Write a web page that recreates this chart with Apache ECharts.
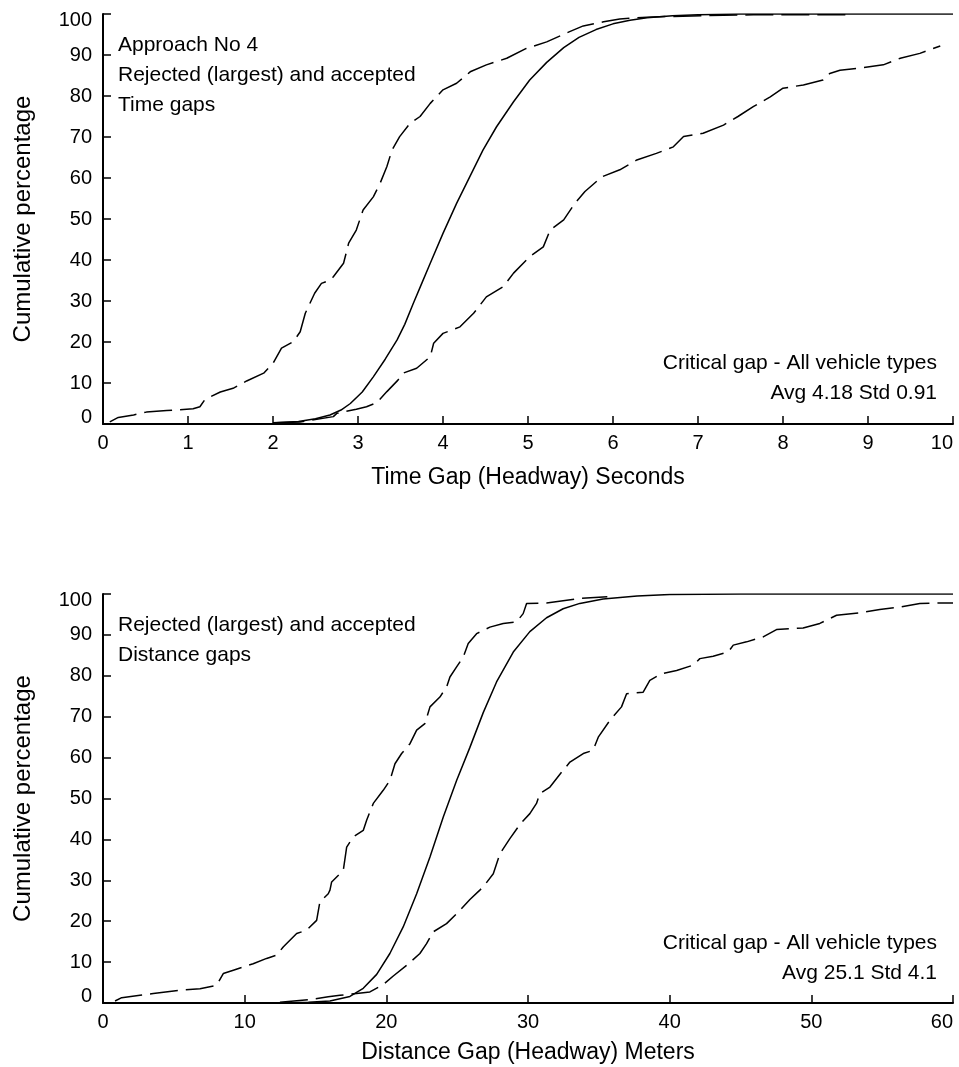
<!DOCTYPE html>
<html>
<head>
<meta charset="utf-8">
<script src="https://cdn.jsdelivr.net/npm/echarts@6/dist/echarts.min.js"></script>
<style>
  html, body { margin: 0; padding: 0; background: #fff; }
  #chart { width: 959px; height: 1067px; }
</style>
</head>
<body>
<div id="chart"></div>
<script>
// Cumulative distributions of gaps at approach No 4: [gap, cumulative %]
const timeRejected = [[0.08,0.5],[0.18,1.6],[0.36,2.2],[0.51,2.9],[0.75,3.3],[1.06,3.7],[1.14,4.2],[1.2,6.0],[1.38,7.8],[1.53,8.7],[1.69,10.5],[1.89,12.4],[2.0,14.8],[2.1,18.5],[2.24,20.1],[2.32,22.5],[2.38,27],[2.49,31.9],[2.57,34.3],[2.67,35.1],[2.71,35.9],[2.83,39.2],[2.89,44.1],[2.98,47.3],[3.06,52.2],[3.18,55.4],[3.26,58.7],[3.34,62.8],[3.4,66.8],[3.49,70.1],[3.61,73.3],[3.73,75],[3.85,78.2],[4.0,81.5],[4.16,83.1],[4.32,85.9],[4.51,87.6],[4.75,89.2],[4.98,91.6],[5.22,93.2],[5.49,95.7],[5.65,97.1],[5.89,98.1],[6.08,98.8],[6.4,99.2],[6.67,99.4],[7.06,99.6],[7.65,99.8],[8.82,99.8]];
const timeCritical = [[2.0,0.3],[2.3,0.6],[2.5,1.3],[2.67,2.2],[2.8,3.4],[2.91,5.0],[3.05,7.8],[3.18,11.5],[3.32,15.8],[3.46,20.5],[3.55,24.3],[3.65,29.4],[3.75,34.3],[3.85,39.2],[4.0,46.5],[4.16,53.8],[4.32,60.5],[4.47,66.8],[4.63,72.5],[4.83,78.6],[5.02,83.9],[5.22,88.2],[5.42,91.8],[5.6,94.3],[5.8,96.2],[6.0,97.6],[6.2,98.5],[6.4,99.1],[6.7,99.6],[7.0,99.8],[7.5,100],[10,100]];
const timeAccepted = [[2.04,0.3],[2.32,0.5],[2.71,1.8],[2.75,2.6],[2.98,3.6],[3.1,4.2],[3.22,5.2],[3.34,7.9],[3.47,10.7],[3.53,12.4],[3.69,13.6],[3.85,16.4],[3.89,19.7],[4.0,22.1],[4.2,23.7],[4.36,27],[4.51,31],[4.71,33.5],[4.83,36.8],[5.02,40.8],[5.18,43.2],[5.26,47.3],[5.42,49.8],[5.55,53.8],[5.67,56.7],[5.87,60.3],[6.08,62],[6.28,64.4],[6.51,66],[6.71,67.6],[6.83,70.1],[7.06,70.9],[7.3,72.9],[7.47,75],[7.65,77.4],[7.85,79.8],[8.0,81.9],[8.24,82.7],[8.47,83.9],[8.55,85.5],[8.67,86.3],[8.91,86.8],[9.18,87.6],[9.38,89.2],[9.61,90.4],[9.85,92.2]];

const distRejected = [[0.85,0.5],[1.32,1.3],[2.61,1.9],[3.55,2.3],[5.43,3.1],[6.85,3.5],[8.02,4.3],[8.49,7.2],[9.2,8],[10.6,9.6],[11.55,10.9],[12.26,11.7],[12.72,13.7],[13.67,17],[14.37,17.8],[15.08,20.2],[15.31,24.7],[15.9,26.7],[16.02,27.6],[16.14,29.6],[16.96,32.4],[17.2,38.1],[17.66,40.6],[18.37,42.2],[18.61,44.7],[19.08,48.8],[19.78,52],[20.25,54.4],[20.61,58.5],[21.08,61],[21.67,63.4],[22.14,66.7],[22.72,68.3],[23.08,72.4],[23.78,74.8],[24.26,77.3],[24.49,79.7],[24.96,82.2],[25.43,84.6],[25.78,87.9],[26.37,90.3],[27.31,91.9],[28.25,92.8],[29.19,93.2],[29.66,95.2],[29.9,97.7],[31.31,97.8],[33.66,98.9],[35.6,99.3]];
const distCritical = [[12.5,0],[14.5,0.2],[16.02,0.5],[17.43,1.6],[18.37,3.6],[19.32,7.0],[20.25,12.1],[21.19,18.6],[22.14,26.7],[23.08,35.7],[24.02,45.5],[24.96,54.4],[25.9,62.5],[26.84,71.0],[27.78,78.5],[28.96,85.8],[30.13,90.8],[31.31,94.2],[32.48,96.4],[33.66,97.7],[35.3,98.8],[37.7,99.5],[40,99.9],[45,100],[60,100]];
const distAccepted = [[12.49,0.2],[14.5,0.8],[15.9,1.5],[16.73,1.9],[17.9,2.3],[18.84,2.7],[19.78,4.5],[20.49,6.6],[21.43,9.2],[22.37,12.1],[22.84,14.5],[23.31,17.4],[24.25,19.4],[25.07,22.2],[25.9,25.3],[26.6,27.6],[26.84,28.4],[27.55,31.6],[28.02,36.5],[28.72,40.2],[29.48,43.9],[30.13,46.3],[30.6,48.8],[30.84,51.2],[31.55,52.8],[32.2,55.7],[32.96,58.9],[33.9,61],[34.6,61.8],[34.96,65],[35.78,69.1],[36.6,72.4],[36.96,75.6],[38.13,76],[38.6,78.9],[39.43,80.5],[40.49,81.3],[41.66,82.6],[42.13,84.2],[43.07,84.8],[44.13,85.8],[44.49,87.5],[45.43,88.3],[46.6,89.5],[47.54,91.3],[49.42,91.7],[50.6,92.8],[51.78,94.8],[53.42,95.4],[54.83,96.2],[56.25,96.8],[57.66,97.7],[59.07,97.8],[60,97.8]];

const xTitles = ['Time Gap (Headway) Seconds', 'Distance Gap (Headway) Meters'];
const yTitle = 'Cumulative percentage';
const topNotes = ['Approach No 4', 'Rejected (largest) and accepted', 'Time gaps'];
const bottomNotes = ['Rejected (largest) and accepted', 'Distance gaps'];
const topStats = ['Critical gap - All vehicle types', 'Avg 4.18 Std 0.91'];
const bottomStats = ['Critical gap - All vehicle types', 'Avg 25.1 Std 4.1'];

const FONT = '"Liberation Sans", Arial, Helvetica, sans-serif';
const INK = '#000';

function xAxis(gridIndex, max, interval, name, nameGap) {
  return {
    type: 'value', gridIndex, min: 0, max, interval,
    name, nameLocation: 'middle', nameGap,
    nameTextStyle: { fontFamily: FONT, fontSize: 23, color: INK },
    axisLine: { lineStyle: { color: INK, width: 2 } },
    axisTick: { inside: true, length: 8, lineStyle: { color: INK, width: 1.5 } },
    axisLabel: { fontFamily: FONT, fontSize: 20, color: INK, margin: 9, alignMaxLabel: 'right' },
    splitLine: { show: false }
  };
}
// end labels sit slightly inside the axis range
const endLabelRich = {
  hi: { fontFamily: FONT, fontSize: 20, color: INK, padding: [12, 0, 0, 0] },
  lo: { fontFamily: FONT, fontSize: 20, color: INK, padding: [0, 0, 13, 0] }
};
function yAxis(gridIndex) {
  return {
    type: 'value', gridIndex, min: 0, max: 100, interval: 10,
    name: yTitle, nameLocation: 'middle', nameGap: 68, nameRotate: 90,
    nameTextStyle: { fontFamily: FONT, fontSize: 24, color: INK },
    axisLine: { show: true, lineStyle: { color: INK, width: 2 } },
    axisTick: { show: true, inside: true, length: 8, lineStyle: { color: INK, width: 1.5 } },
    axisLabel: {
      fontFamily: FONT, fontSize: 20, color: INK, margin: 11,
      formatter: v => v === 100 ? '{hi|100}' : v === 0 ? '{lo|0}' : String(v),
      rich: endLabelRich
    },
    splitLine: { show: false }
  };
}
function line(data, idx, dashed) {
  return {
    type: 'line', data, xAxisIndex: idx, yAxisIndex: idx,
    showSymbol: false, symbol: 'none', smooth: false, animation: false,
    lineStyle: { color: INK, width: 1.5, type: dashed ? [28, 8] : 'solid' }
  };
}
function notes(lines, x, y0, align) {
  return lines.map((t, i) => ({
    type: 'text', x, y: y0 + i * 30,
    style: { text: t, fontFamily: FONT, fontSize: 21, fill: INK, textAlign: align, textVerticalAlign: 'middle' }
  }));
}

const chart = echarts.init(document.getElementById('chart'), null, { renderer: 'canvas' });
chart.setOption({
  backgroundColor: '#fff',
  animation: false,
  grid: [
    { left: 103, top: 14, width: 850, height: 410, containLabel: false, outerBoundsMode: 'none' },
    { left: 103, top: 594, width: 850, height: 409, containLabel: false, outerBoundsMode: 'none' }
  ],
  xAxis: [xAxis(0, 10, 1, xTitles[0], 42), xAxis(1, 60, 10, xTitles[1], 38)],
  yAxis: [yAxis(0), yAxis(1)],
  series: [
    line(timeRejected, 0, true),
    line(timeCritical, 0, false),
    line(timeAccepted, 0, true),
    line(distRejected, 1, true),
    line(distCritical, 1, false),
    line(distAccepted, 1, true)
  ],
  graphic: [
    ...notes(topNotes, 118, 45, 'left'),
    ...notes(bottomNotes, 118, 625, 'left'),
    ...notes(topStats, 937, 363, 'right'),
    ...notes(bottomStats, 937, 943, 'right')
  ]
});
</script>
</body>
</html>
